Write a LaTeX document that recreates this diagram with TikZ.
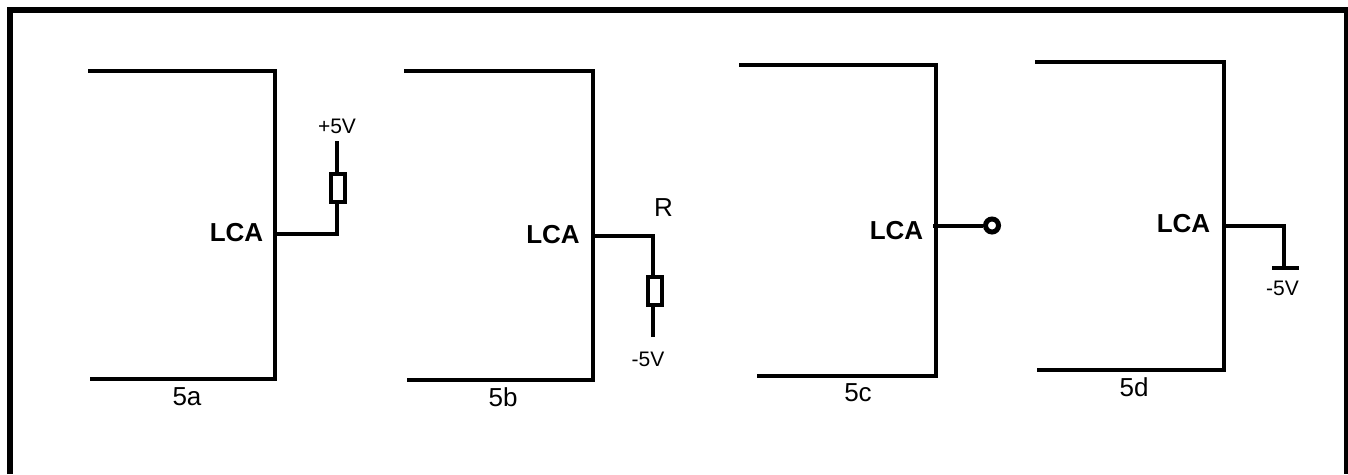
\documentclass[tikz,border=0pt]{standalone}
\usepackage{fontspec}
\setmainfont{Liberation Sans}
\usetikzlibrary{positioning}

\begin{document}
\begin{tikzpicture}[
  x=1pt,y=-1pt,
  line width=4pt,
  myres/.style={
    draw,
    fill=white,
    rectangle,
    inner sep=0pt,
    minimum width=14pt,
    minimum height=28pt
    },
  mypin/.style={
    draw,
    circle,
    inner sep=0pt,
    line width=5pt,
    minimum size=13pt
    },
  mylca/.style={
    font=\fontsize{26}{26}\bfseries\selectfont,
    inner sep=0pt
    },
  mytext/.style={
    font=\fontsize{21}{21}\selectfont,
    inner sep=0pt
    },
  mybig/.style={
    font=\fontsize{26}{26}\selectfont,
    inner sep=0pt
    }
]
\useasboundingbox (0,0) rectangle (1348,474);

% frame, open at the bottom
\draw[line width=6pt] (10,474) -- (10,10) -- (1347,10) -- (1347,474);

% 5a
\draw (88,71) -- (275,71) -- (275,379) -- (90,379);
\node[mylca] (lcaa) at (236.5,232.5) {LCA};
\node[mybig] (capa) at (187,397) {5a};
\coordinate (outa) at (275,234);
\node[myres] (resa) at (338,188) {};
\node[mytext] (supa) at (337,126) {+5V};
\coordinate (enda) at (337,141);
\draw (outa) -- (337,234) -- (resa.south -| 337,234);
\draw (enda) -- (resa.north -| enda);

% 5b
\draw (404,71) -- (593,71) -- (593,380) -- (407,380);
\node[mylca] (lcab) at (553,235) {LCA};
\node[mybig] (capb) at (503,397.5) {5b};
\coordinate (outb) at (593,235.5);
\node[myres] (resb) at (655,291) {};
\node[mybig] (labr) at (663.5,207.5) {R};
\node[mytext] (supb) at (648,359) {-5V};
\coordinate (endb) at (653,337);
\draw (outb) -- (653,235.5) -- (resb.north -| 653,235);
\draw (endb) -- (resb.south -| endb);

% 5c
\draw (739,65) -- (936,65) -- (936,376) -- (757,376);
\node[mylca] (lcac) at (896.5,231) {LCA};
\node[mybig] (capc) at (858,393) {5c};
\coordinate (outc) at (933,225.5);
\node[mypin] (pinc) at (992,225.5) {};
\draw (outc) -- (pinc);

% 5d
\draw (1035,62) -- (1224,62) -- (1224,370) -- (1037,370);
\node[mylca] (lcad) at (1183.5,224) {LCA};
\node[mybig] (capd) at (1134,387.5) {5d};
\coordinate (outd) at (1224,226);
\coordinate (gndl) at (1272,268);
\coordinate (gndr) at (1299,268);
\coordinate (gndm) at (1284,268);
\node[mytext] (supd) at (1282.5,288) {-5V};
\draw (outd) -- (1284,226) -- (gndm);
\draw (gndl) -- (gndr);

\end{tikzpicture}
\end{document}
